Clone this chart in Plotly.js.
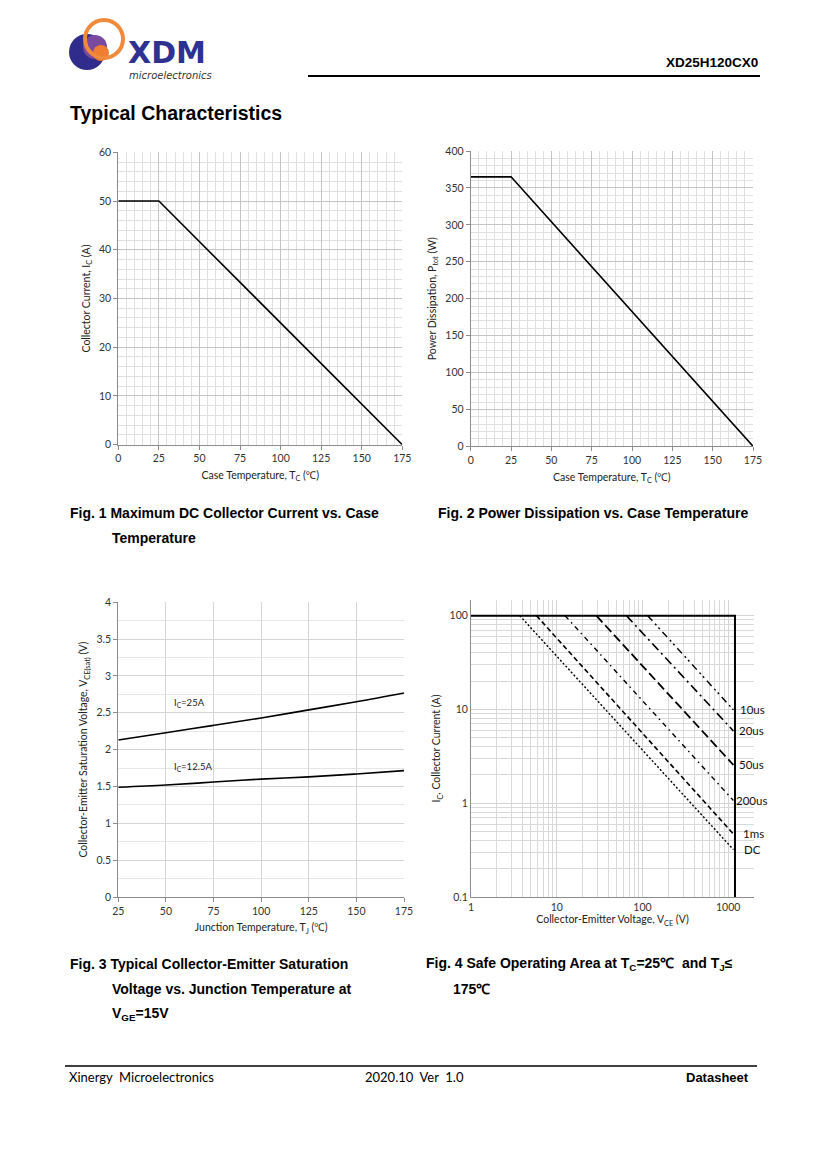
<!DOCTYPE html>
<html>
<head>
<meta charset="utf-8">
<script src="https://cdn.plot.ly/plotly-3.0.1.min.js"></script>
<style>
html,body{margin:0;padding:0;background:#fff;}
#page{width:827px;height:1170px;}
</style>
</head>
<body>
<div id="page"></div>
<script>
// ---------------- DATA ----------------
// Fig. 1 Maximum DC collector current vs case temperature
const fig1_temp = [0, 25, 175];
const fig1_ic = [50, 50, 0];
// Fig. 2 Power dissipation vs case temperature
const fig2_temp = [0, 25, 175];
const fig2_ptot = [365, 365, 0];
// Fig. 3 VCE(sat) vs junction temperature
const fig3_tj = [25, 50, 75, 100, 125, 150, 175];
const fig3_vce_25A = [2.13, 2.23, 2.33, 2.43, 2.54, 2.65, 2.77];
const fig3_vce_12p5A = [1.49, 1.52, 1.56, 1.60, 1.63, 1.67, 1.715];
const fig3_labels = ["I<sub>C</sub>=25A", "I<sub>C</sub>=12.5A"];
// Fig. 4 Safe operating area
const soa_env_vce = [1, 1200, 1200];
const soa_env_ic = [100, 100, 0.1];
const soa_names = ["10us", "20us", "50us", "200us", "1ms", "DC"];
const soa_vce = [[115, 1150], [65, 1150], [29, 1150], [12.5, 1150], [5.8, 1150], [3.7, 1150]];
const soa_ic = [[100, 9.9], [100, 5.9], [100, 2.56], [100, 1.07], [100, 0.47], [100, 0.32]];
// tick labels
const lin_temp_ticks = [0, 25, 50, 75, 100, 125, 150, 175];
const fig1_yticks = [0, 10, 20, 30, 40, 50, 60];
const fig2_yticks = [0, 50, 100, 150, 200, 250, 300, 350, 400];
const fig3_xticks = [25, 50, 75, 100, 125, 150, 175];
const fig3_yticks = [0, 0.5, 1, 1.5, 2, 2.5, 3, 3.5, 4];
const fig4_xticks = [1, 10, 100, 1000];
const fig4_xticktext = ["1", "10", "100", "1000"];
const fig4_yticks = [0.1, 1, 10, 100];
const fig4_yticktext = ["0.1", "1", "10", "100"];

// ---------------- LAYOUT HELPERS ----------------
const W = 827, H = 1170;
const X = p => p / W;
const Y = p => 1 - p / H;
const chartFont = 'Lato, "Noto Sans", sans-serif';
const capFont = '"Liberation Sans", Arial, sans-serif';

function ann(text, x, y, o) {
  o = o || {};
  return {
    text: text, x: X(x), y: Y(y), xref: 'paper', yref: 'paper',
    xanchor: o.xanchor || 'left', yanchor: o.yanchor || 'middle', showarrow: false,
    font: {family: o.family || capFont, size: o.size || 13, color: o.color || '#000',
           weight: o.weight || 'normal', style: o.style || 'normal'}
  };
}

// minor grid positions on log axes (2..9 per decade)
function logMinor(lo, hi) {
  const v = [];
  for (let e = lo; e <= hi; e++) for (let m = 2; m <= 9; m++) v.push(m * Math.pow(10, e));
  return v;
}

const baseAxis = {
  showline: true, linecolor: '#8c8c8c', linewidth: 1,
  ticks: 'outside', ticklen: 4, tickcolor: '#8c8c8c', tickwidth: 1,
  zeroline: false, gridcolor: '#c4c4c4', gridwidth: 1,
  tickfont: {family: chartFont, size: 10.5, color: '#333'},
  fixedrange: true
};
function ax(extra) { return Object.assign({}, baseAxis, extra); }
function ttl(text, standoff) {
  return {text: text, standoff: standoff, font: {family: chartFont, size: 10.5, color: '#222'}};
}

// ---------------- TRACES ----------------
const traces = [];
traces.push({x: fig1_temp, y: fig1_ic, xaxis: 'x', yaxis: 'y', mode: 'lines',
  line: {color: '#000', width: 1.6}, hoverinfo: 'skip'});
traces.push({x: fig2_temp, y: fig2_ptot, xaxis: 'x2', yaxis: 'y2', mode: 'lines',
  line: {color: '#000', width: 1.6}, hoverinfo: 'skip'});
traces.push({x: fig3_tj, y: fig3_vce_25A, xaxis: 'x3', yaxis: 'y3', mode: 'lines', name: 'IC=25A',
  line: {color: '#000', width: 1.6, shape: 'spline'}, hoverinfo: 'skip'});
traces.push({x: fig3_tj, y: fig3_vce_12p5A, xaxis: 'x3', yaxis: 'y3', mode: 'lines', name: 'IC=12.5A',
  line: {color: '#000', width: 1.6, shape: 'spline'}, hoverinfo: 'skip'});
traces.push({x: soa_env_vce, y: soa_env_ic, xaxis: 'x4', yaxis: 'y4', mode: 'lines',
  line: {color: '#000', width: 2}, hoverinfo: 'skip'});
const soa_dash = ['7px,4px,2px,3px,2px,4px', '9px,4px,2px,4px', '9px,4px', '5px,4px,1.5px,4px', '5px,3px', '2px,2px'];
const soa_width = [1.4, 1.6, 1.8, 1.4, 1.6, 1.4];
soa_names.forEach((n, i) => {
  traces.push({x: soa_vce[i], y: soa_ic[i], xaxis: 'x4', yaxis: 'y4', mode: 'lines', name: n,
    line: {color: '#000', width: soa_width[i], dash: soa_dash[i]}, hoverinfo: 'skip'});
});

// ---------------- ANNOTATIONS ----------------
const anns = [];
anns.push(ann('XD25H120CX0', 760, 62, {xanchor: 'right', size: 13.5, weight: 'bold'}));
anns.push(ann('Typical Characteristics', 68, 113, {size: 19.5, weight: 'bold'}));
anns.push(ann('XDM', 126, 53, {size: 30, weight: 'bold', color: '#2e3192', family: '"DejaVu Sans", sans-serif'}));
anns.push(ann('microelectronics', 127, 76, {size: 10, style: 'italic', color: '#333', family: '"DejaVu Sans", sans-serif'}));

anns.push(ann('Fig. 1 Maximum DC Collector Current vs. Case', 68, 513, {weight: 'bold', size: 14}));
anns.push(ann('Temperature', 110, 538, {weight: 'bold', size: 14}));
anns.push(ann('Fig. 2 Power Dissipation vs. Case Temperature', 436, 513, {weight: 'bold', size: 14}));
anns.push(ann('Fig. 3 Typical Collector-Emitter Saturation', 68, 964, {weight: 'bold', size: 14}));
anns.push(ann('Voltage vs. Junction Temperature at', 110, 989, {weight: 'bold', size: 14}));
anns.push(ann('V<sub>GE</sub>=15V', 110, 1014, {weight: 'bold', size: 14}));
anns.push(ann('Fig. 4 Safe Operating Area at T<sub>C</sub>=25℃  and T<sub>J</sub>≤', 424, 964, {weight: 'bold', size: 14}));
anns.push(ann('175℃', 451, 989, {weight: 'bold', size: 14}));

anns.push(ann('Xinergy  Microelectronics', 67, 1077, {size: 13, family: chartFont}));
anns.push(ann('2020.10  Ver  1.0', 414, 1077, {xanchor: 'center', size: 13, family: chartFont}));
anns.push(ann('Datasheet', 751, 1077, {xanchor: 'right', size: 13, weight: 'bold'}));

// Fig. 3 curve labels (data coords)
anns.push({text: fig3_labels[0], x: 53, y: 2.63, xref: 'x3', yref: 'y3', xanchor: 'left', yanchor: 'middle',
  showarrow: false, font: {family: chartFont, size: 9.5, color: '#222'}});
anns.push({text: fig3_labels[1], x: 53, y: 1.77, xref: 'x3', yref: 'y3', xanchor: 'left', yanchor: 'middle',
  showarrow: false, font: {family: chartFont, size: 9.5, color: '#222'}});

// Fig. 4 curve labels (at end of each line)
const soa_lab_x = [738, 737, 737, 734, 741, 742];
soa_names.forEach((n, i) => {
  anns.push({text: n, x: Math.log10(1200), y: Math.log10(soa_ic[i][1]), xref: 'x4', yref: 'y4',
    xanchor: 'left', yanchor: 'middle', xshift: soa_lab_x[i] - 735, yshift: 0,
    showarrow: false, font: {family: chartFont, size: 11.5, color: '#111'}});
});

// ---------------- SHAPES ----------------
const circ = (cx, cy, r, fill, line, lw) => ({type: 'circle', xref: 'paper', yref: 'paper',
  x0: X(cx - r), x1: X(cx + r), y0: Y(cy + r), y1: Y(cy - r),
  fillcolor: fill, line: {color: line || 'rgba(0,0,0,0)', width: lw || 0}, layer: 'above'});
const shapes = [
  {type: 'line', xref: 'paper', yref: 'paper', x0: X(308), x1: X(760), y0: Y(76), y1: Y(76), line: {color: '#000', width: 2}},
  {type: 'line', xref: 'paper', yref: 'paper', x0: X(65), x1: X(757), y0: Y(1066), y1: Y(1066), line: {color: '#000', width: 1.5}},
  circ(87, 52, 18, '#2f2c8c'),
  circ(95, 47, 12, '#7a4a9e'),
  circ(101, 53, 8, '#ef7d32'),
  circ(104, 39, 19, 'rgba(0,0,0,0)', '#f08a3c', 4)
];

// ---------------- LAYOUT ----------------
const layout = {
  width: W, height: H, margin: {l: 0, r: 0, t: 0, b: 0},
  paper_bgcolor: '#fff', plot_bgcolor: '#fff', showlegend: false,
  font: {family: chartFont, color: '#222'},
  xaxis: ax({domain: [X(118.3), X(402.3)], range: [0, 175], tickvals: lin_temp_ticks, anchor: 'y',
    minor: {dtick: 5, showgrid: true, gridcolor: '#e0e0e0', ticks: ''},
    title: ttl('Case Temperature, T<sub>C</sub> (℃)', 8)}),
  yaxis: ax({domain: [Y(444.7), Y(152.3)], range: [0, 60], tickvals: fig1_yticks, anchor: 'x',
    minor: {dtick: 2, showgrid: true, gridcolor: '#e0e0e0', ticks: ''},
    title: ttl('Collector Current, I<sub>C</sub> (A)', 6)}),
  xaxis2: ax({domain: [X(470.7), X(753)], range: [0, 175], tickvals: lin_temp_ticks, anchor: 'y2',
    minor: {dtick: 5, showgrid: true, gridcolor: '#e0e0e0', ticks: ''},
    title: ttl('Case Temperature, T<sub>C</sub> (℃)', 8)}),
  yaxis2: ax({domain: [Y(446.3), Y(151)], range: [0, 400], tickvals: fig2_yticks, anchor: 'x2',
    minor: {dtick: 10, showgrid: true, gridcolor: '#e0e0e0', ticks: ''},
    title: ttl('Power Dissipation, P<sub>tot</sub> (W)', 6)}),
  xaxis3: ax({domain: [X(118.3), X(404)], range: [25, 175], tickvals: fig3_xticks, anchor: 'y3',
    gridcolor: '#d4d4d4',
    title: ttl('Junction Temperature, T<sub>J</sub> (℃)', 8)}),
  yaxis3: ax({domain: [Y(897), Y(602.3)], range: [0, 4], tickvals: fig3_yticks, anchor: 'x3',
    gridcolor: '#d4d4d4',
    minor: {dtick: 0.25, showgrid: true, gridcolor: '#e6e6e6', ticks: ''},
    title: ttl('Collector-Emitter Saturation Voltage, V<sub>CE(sat)</sub> (V)', 6)}),
  xaxis4: ax({domain: [X(471), X(754)], type: 'log', range: [0, Math.log10(2000)], anchor: 'y4',
    tickmode: 'array', tickvals: fig4_xticks, ticktext: fig4_xticktext, ticks: '', gridcolor: '#d4d4d4',
    minor: {tickmode: 'array', tickvals: logMinor(0, 3), showgrid: true, gridcolor: '#d9d9d9', ticks: ''},
    title: ttl('Collector-Emitter Voltage, V<sub>CE</sub> (V)', 4)}),
  yaxis4: ax({domain: [Y(897), Y(600)], type: 'log', range: [-1, 2.167], anchor: 'x4',
    tickmode: 'array', tickvals: fig4_yticks, ticktext: fig4_yticktext, ticks: '', gridcolor: '#d4d4d4',
    minor: {tickmode: 'array', tickvals: logMinor(-1, 1), showgrid: true, gridcolor: '#d9d9d9', ticks: ''},
    title: ttl('I<sub>C</sub>, Collector Current (A)', 6)}),
  annotations: anns,
  shapes: shapes
};

Plotly.newPlot('page', traces, layout, {staticPlot: true, displayModeBar: false});
</script>
</body>
</html>
